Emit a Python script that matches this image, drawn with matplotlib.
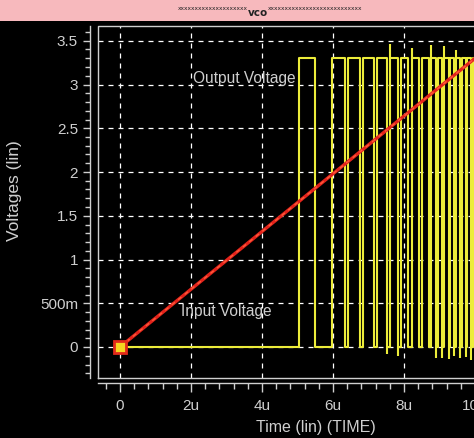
"""VCO transient plot: output square wave vs input ramp."""

import matplotlib
matplotlib.use("Agg")
import matplotlib.pyplot as plt
from matplotlib.patches import Rectangle
from matplotlib.ticker import MultipleLocator, FixedLocator, FixedFormatter

# times in microseconds, volts
INPUT_T = [0.0, 10.2]
INPUT_V = [0.0, 3.366]

OUT_HIGH = 3.3
RISE_T = [5.04, 5.97, 6.42, 6.85, 7.24, 7.61, 7.92, 8.23, 8.51, 8.76, 8.95, 9.13, 9.30,
          9.47, 9.63, 9.78, 9.93]
FALL_T = [5.49, 6.34, 6.76, 7.15, 7.52, 7.83, 8.11, 8.42, 8.70, 8.90, 9.08, 9.26, 9.42,
          9.58, 9.74, 9.89, 10.03]

# overshoot / undershoot glitches at some edges
OVER_T = [7.61, 8.23, 8.76, 9.13, 9.47]
OVER_V = [3.46, 3.42, 3.45, 3.44, 3.40]
UNDER_T = [7.52, 7.83, 8.90, 9.08, 9.26, 9.42, 9.58, 9.74, 9.89]
UNDER_V = [-0.08, -0.10, -0.12, -0.12, -0.14, -0.10, -0.13, -0.11, -0.15]

Y_TICKS = [0, 0.5, 1, 1.5, 2, 2.5, 3, 3.5]
Y_LABELS = ["0", "500m", "1", "1.5", "2", "2.5", "3", "3.5"]
X_TICKS = [0, 2, 4, 6, 8, 10]
X_LABELS = ["0", "2u", "4u", "6u", "8u", "10u"]

FONT = ["Liberation Sans Narrow", "Liberation Sans", "DejaVu Sans"]
GREY = "#cfcfcf"
YELLOW = "#ecec3a"
RED = "#e3231b"

W, H = 474, 438
PX = 0.72  # points per pixel at dpi 100

# output waveform as steps
out_t = [0.0]
out_v = [0.0]
for r, f in zip(RISE_T, FALL_T):
    out_t += [r, r, f, f]
    out_v += [0.0, OUT_HIGH, OUT_HIGH, 0.0]
out_t.append(10.3)
out_v.append(0.0)

plt.rcParams["font.family"] = FONT
fig = plt.figure(figsize=(W / 100, H / 100), dpi=100, facecolor="black")

# title bar
fig.add_artist(Rectangle((0, 1 - 21 / H), 1, 21 / H, transform=fig.transFigure,
                         facecolor="#f7b9bd", edgecolor="none"))
fig.text(248 / W, 1 - 9 / H, "x" * 20, ha="right", va="center", fontsize=4.2,
         color="#222222", family="DejaVu Sans")
fig.text(258 / W, 1 - 13 / H, "vco", ha="center", va="center", fontsize=7.5,
         fontweight="bold", color="#222222", family="DejaVu Sans")
fig.text(268 / W, 1 - 9 / H, "x" * 27, ha="left", va="center", fontsize=4.2,
         color="#222222", family="DejaVu Sans")

left, right, top, bottom = 98, 476, 26, 378
ax = fig.add_axes([left / W, 1 - bottom / H, (right - left) / W, (bottom - top) / H])
ax.set_facecolor("black")
x0 = -0.62
px_per_u = 35.5
ax.set_xlim(x0, x0 + (right - left) / px_per_u)
ax.set_ylim(-(bottom - 347) / 87.5, (347 - top) / 87.5)

ax.grid(True, which="major", color="white", linestyle=(0, (4, 4)), linewidth=0.9)
ax.set_axisbelow(True)

ax.plot(out_t, out_v, color=YELLOW, linewidth=1.5, zorder=3)
ax.vlines(OVER_T, OUT_HIGH, OVER_V, color=YELLOW, linewidth=1.5, zorder=3)
ax.vlines(UNDER_T, UNDER_V, 0, color=YELLOW, linewidth=1.5, zorder=3)
ax.plot(INPUT_T, INPUT_V, color=RED, linewidth=2.4, zorder=4)
ax.plot(INPUT_T, INPUT_V, color="#ff5a3a", linewidth=1.0, linestyle=(0, (3, 3)), zorder=4)
ax.plot([0], [0], marker="s", markersize=9, markerfacecolor="#f5d520",
        markeredgecolor="#e32a1a", markeredgewidth=2, zorder=5)

ax.text(2.06, 3.07, "Output Voltage", fontsize=11.2, color=GREY, ha="left", va="center", zorder=6)
ax.text(1.72, 0.41, "Input Voltage", fontsize=11.2, color=GREY, ha="left", va="center", zorder=6)

# box around plot area
ax.plot([0, 1, 1, 0, 0], [0, 0, 1, 1, 0], transform=ax.transAxes, color=GREY,
        linewidth=1.0, clip_on=False, zorder=6)

# rulers offset from the box
for side in ("top", "right"):
    ax.spines[side].set_visible(False)
ax.spines["left"].set_position(("outward", 8 * PX))
ax.spines["bottom"].set_position(("outward", 5 * PX))
for side in ("left", "bottom"):
    ax.spines[side].set_color(GREY)
    ax.spines[side].set_linewidth(1.0)

ax.yaxis.set_major_locator(FixedLocator(Y_TICKS))
ax.yaxis.set_major_formatter(FixedFormatter(Y_LABELS))
ax.yaxis.set_minor_locator(MultipleLocator(0.1))
ax.xaxis.set_major_locator(FixedLocator(X_TICKS))
ax.xaxis.set_major_formatter(FixedFormatter(X_LABELS))
ax.xaxis.set_minor_locator(MultipleLocator(0.4))

ax.tick_params(which="both", direction="out", color=GREY, labelcolor=GREY, width=1.0)
ax.tick_params(axis="y", which="major", length=7 * PX, pad=5 * PX, labelsize=11)
ax.tick_params(axis="y", which="minor", length=5 * PX)
ax.tick_params(axis="x", which="major", length=9 * PX, pad=7 * PX, labelsize=11)
ax.tick_params(axis="x", which="minor", length=6 * PX)

ax.set_ylabel("Voltages (lin)", color=GREY, fontsize=12.5)
ax.yaxis.set_label_coords((22 - left) / (right - left), (bottom - 191) / (bottom - top))
ax.set_xlabel("Time (lin) (TIME)", color=GREY, fontsize=11.5)
ax.xaxis.set_label_coords((316 - left) / (right - left), -(420 - bottom) / (bottom - top))

fig.savefig("out.png", dpi=100, facecolor="black")
